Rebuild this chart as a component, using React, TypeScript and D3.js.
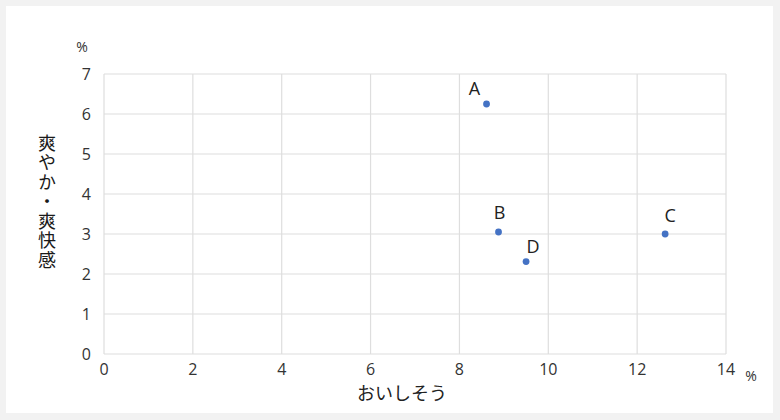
import { useRef, useEffect } from 'react';
import * as d3 from 'd3';

const LABELS = ['A', 'B', 'C', 'D'];
const X_VALUES = [8.61, 8.88, 12.63, 9.5];
const Y_VALUES = [6.25, 3.05, 3.0, 2.31];
const X_TICKS = [0, 2, 4, 6, 8, 10, 12, 14];
const Y_TICKS = [0, 1, 2, 3, 4, 5, 6, 7];

const X_TITLE = 'おいしそう';
const Y_TITLE = '爽やか・爽快感';
const UNIT = '%';

// per-label nudges so the letters sit where the original put them
const LABEL_NUDGE: Record<string, [number, number]> = {
  A: [-12, -9],
  B: [1, -13],
  C: [5, -12],
  D: [7, -9],
};

const WIDTH = 780;
const HEIGHT = 420;
const LATIN = '"Open Sans", "Noto Sans", sans-serif';
const CJK = '"Noto Sans CJK JP", sans-serif';
const TEXT = '#333333';
const GRID = '#dedede';
const DOT = '#4472c4';

export default function App() {
  const svgRef = useRef<SVGSVGElement>(null);

  useEffect(() => {
    const svg = d3.select(svgRef.current);
    svg.selectAll('*').remove();

    const margin = { left: 104, right: 54, top: 74, bottom: 66 };
    const x = d3.scaleLinear().domain([0, 14]).range([margin.left, WIDTH - margin.right]);
    const y = d3.scaleLinear().domain([0, 7]).range([HEIGHT - margin.bottom, margin.top]);

    svg.append('rect').attr('width', WIDTH).attr('height', HEIGHT).attr('fill', '#f2f2f2');
    svg.append('rect')
      .attr('x', 6).attr('y', 6)
      .attr('width', WIDTH - 13).attr('height', HEIGHT - 13)
      .attr('fill', '#ffffff');

    // grid
    svg.append('g')
      .selectAll('line')
      .data(X_TICKS)
      .join('line')
      .attr('x1', d => x(d)).attr('x2', d => x(d))
      .attr('y1', y(0)).attr('y2', y(7))
      .attr('stroke', GRID).attr('stroke-width', 1.2);

    svg.append('g')
      .selectAll('line')
      .data(Y_TICKS)
      .join('line')
      .attr('x1', x(0)).attr('x2', x(14))
      .attr('y1', d => y(d)).attr('y2', d => y(d))
      .attr('stroke', GRID).attr('stroke-width', 1.2);

    // tick labels
    svg.append('g')
      .selectAll('text')
      .data(X_TICKS)
      .join('text')
      .attr('x', d => x(d))
      .attr('y', y(0) + 21)
      .attr('text-anchor', 'middle')
      .attr('font-family', LATIN)
      .attr('font-size', 16)
      .attr('fill', TEXT)
      .text(d => d);

    svg.append('g')
      .selectAll('text')
      .data(Y_TICKS)
      .join('text')
      .attr('x', x(0) - 13)
      .attr('y', d => y(d))
      .attr('dy', '0.36em')
      .attr('text-anchor', 'end')
      .attr('font-family', LATIN)
      .attr('font-size', 16)
      .attr('fill', TEXT)
      .text(d => d);

    // units
    svg.append('text')
      .attr('x', 82).attr('y', 52)
      .attr('text-anchor', 'middle')
      .attr('font-family', LATIN).attr('font-size', 14)
      .attr('fill', TEXT)
      .text(UNIT);
    svg.append('text')
      .attr('x', 751).attr('y', 381)
      .attr('text-anchor', 'middle')
      .attr('font-family', LATIN).attr('font-size', 14)
      .attr('fill', TEXT)
      .text(UNIT);

    // axis titles
    svg.append('text')
      .attr('x', (x(0) + x(14)) / 2 - 13)
      .attr('y', 400)
      .attr('text-anchor', 'middle')
      .attr('font-family', CJK)
      .attr('font-size', 18)
      .attr('fill', '#222222')
      .text(X_TITLE);

    svg.append('text')
      .attr('x', 47)
      .attr('y', 134)
      .attr('writing-mode', 'vertical-rl')
      .attr('text-orientation', 'upright')
      .attr('font-family', CJK)
      .attr('font-size', 18)
      .attr('letter-spacing', 1.5)
      .attr('fill', '#1a1a1a')
      .text(Y_TITLE);

    // points + labels
    const pts = LABELS.map((label, i) => ({ label, xv: X_VALUES[i], yv: Y_VALUES[i] }));

    svg.append('g')
      .selectAll('circle')
      .data(pts)
      .join('circle')
      .attr('cx', d => x(d.xv))
      .attr('cy', d => y(d.yv))
      .attr('r', 3.4)
      .attr('fill', DOT);

    svg.append('g')
      .selectAll('text')
      .data(pts)
      .join('text')
      .attr('x', d => x(d.xv) + LABEL_NUDGE[d.label][0])
      .attr('y', d => y(d.yv) + LABEL_NUDGE[d.label][1])
      .attr('text-anchor', 'middle')
      .attr('font-family', LATIN)
      .attr('font-size', 18)
      .attr('fill', '#222222')
      .text(d => d.label);
  }, []);

  return (
    <svg
      ref={svgRef}
      width={WIDTH}
      height={HEIGHT}
      style={{ position: 'absolute', left: 0, top: 0 }}
    />
  );
}
